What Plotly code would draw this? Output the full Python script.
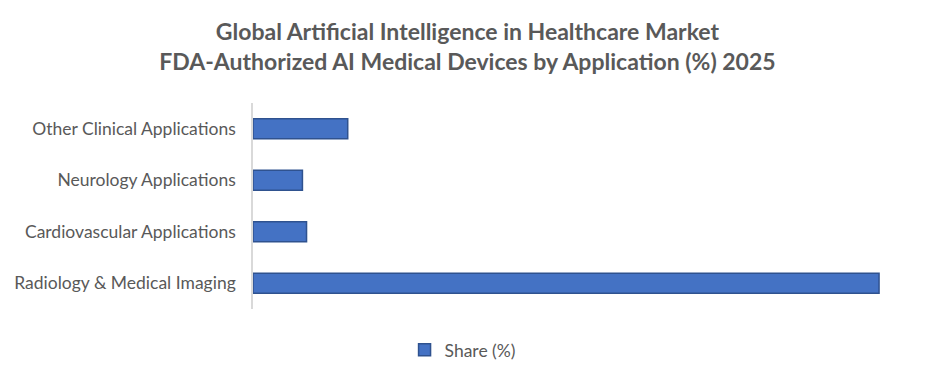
import plotly.graph_objects as go

categories = ["Radiology & Medical Imaging", "Cardiovascular Applications",
              "Neurology Applications", "Other Clinical Applications"]
share = [76, 6.5, 6, 11.5]
series_name = "Share (%)"
title_lines = ["Global Artificial Intelligence in Healthcare Market",
               "FDA-Authorized AI Medical Devices by Application (%) 2025"]

fig = go.Figure()
fig.add_trace(go.Bar(
    x=share, y=categories, orientation="h", name=series_name,
    marker=dict(color="#4472C4", line=dict(color="#2F528F", width=1.5)),
    showlegend=True,
))

fig.update_layout(
    width=935, height=380,
    margin=dict(l=245, r=31, t=95, b=79, autoexpand=False),
    paper_bgcolor="white", plot_bgcolor="white",
    bargap=0.61,
    title=dict(text="<b>" + title_lines[0] + "</b><br><b>" + title_lines[1] + "</b>",
               x=0.4914, xanchor="center", xref="container",
               y=0.916, yanchor="middle", yref="container",
               font=dict(family="Lato", size=23, color="#595959")),
    xaxis=dict(range=[0, 80], showgrid=False, showticklabels=False, zeroline=False,
               showline=False, fixedrange=True),
    yaxis=dict(showline=True, linecolor="#D9D9D9", linewidth=1.5, ticks="",
               ticklabelstandoff=12,
               tickfont=dict(family="Lato", size=17.5, color="#595959"), showgrid=False),
    legend=dict(orientation="h", x=0.318, xanchor="center",
                y=-0.199, yanchor="middle",
                font=dict(family="Lato", size=17.5, color="#595959"),
                itemwidth=30),
    showlegend=True,
)

fig.write_html("out.html")
